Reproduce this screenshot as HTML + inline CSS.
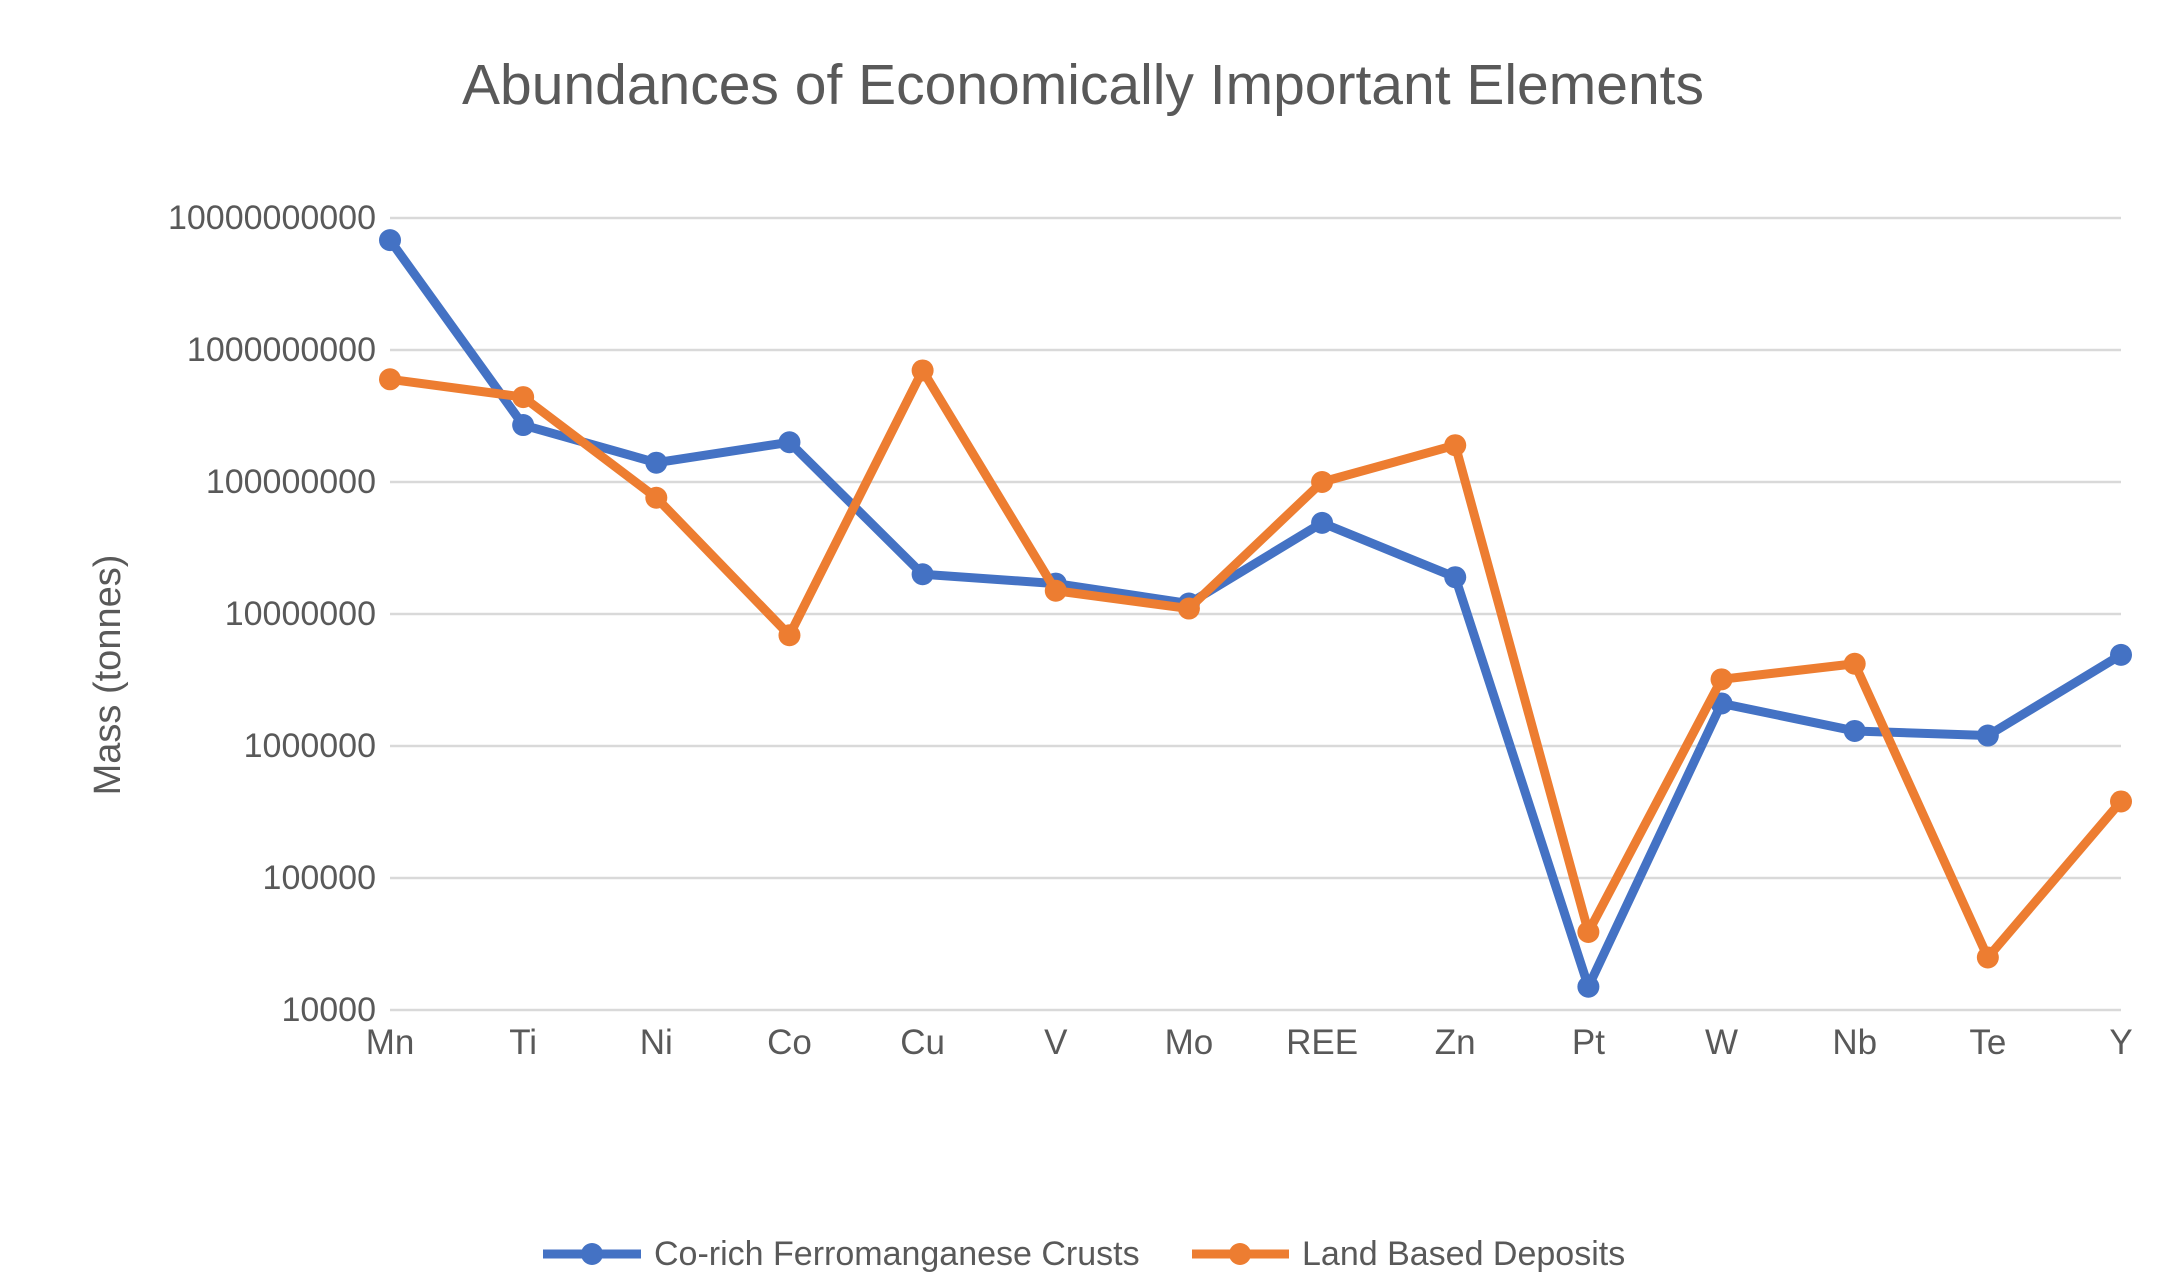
<!DOCTYPE html>
<html><head><meta charset="utf-8"><style>
html,body{margin:0;padding:0;background:#fff;}
svg{display:block;font-family:"Liberation Sans",sans-serif;}
</style></head><body>
<svg id="chart" width="2174" height="1284" viewBox="0 0 2174 1284">
<rect width="2174" height="1284" fill="#fff"/>
<text x="1083" y="104" text-anchor="middle" font-size="57" fill="#595959">Abundances of Economically Important Elements</text>
<g id="grid"></g><g id="yticks"></g><g id="xticks"></g><g id="series"></g>
<text transform="translate(120,675) rotate(-90)" text-anchor="middle" font-size="38" fill="#595959">Mass (tonnes)</text>
<g>
<g>
<line x1="543" y1="1254" x2="641" y2="1254" stroke="#4472C4" stroke-width="9"/><circle cx="592" cy="1254" r="11" fill="#4472C4"/>
<text x="654" y="1265" font-size="34" fill="#595959">Co-rich Ferromanganese Crusts</text></g>
<g>
<line x1="1192" y1="1254" x2="1289" y2="1254" stroke="#ED7D31" stroke-width="9"/><circle cx="1240" cy="1254" r="11" fill="#ED7D31"/>
<text x="1302" y="1265" font-size="34" fill="#595959">Land Based Deposits</text></g>
</g>
</svg>
<script>
const categories=["Mn","Ti","Ni","Co","Cu","V","Mo","REE","Zn","Pt","W","Nb","Te","Y"];
const crusts=[6.8e9,2.7e8,1.4e8,2.0e8,2.0e7,1.7e7,1.2e7,4.9e7,1.9e7,1.5e4,2.1e6,1.3e6,1.2e6,4.9e6];
const land=[6.0e8,4.4e8,7.6e7,6.9e6,7.0e8,1.5e7,1.1e7,1.0e8,1.9e8,3.9e4,3.2e6,4.2e6,2.5e4,3.8e5];
const yTickLabels=["10000","100000","1000000","10000000","100000000","1000000000","10000000000"];
const NS="http://www.w3.org/2000/svg";
const X0=390,X1=2121,YT=218,YB=1010,LMIN=4,LMAX=10;
function xPos(i){return X0+(X1-X0)*i/(categories.length-1);}
function yPos(v){return YB-(Math.log10(v)-LMIN)/(LMAX-LMIN)*(YB-YT);}
function mk(tag,attrs,parent){const e=document.createElementNS(NS,tag);for(const k in attrs)e.setAttribute(k,attrs[k]);parent.appendChild(e);return e;}
const grid=document.getElementById('grid'),yt=document.getElementById('yticks'),xt=document.getElementById('xticks'),sg=document.getElementById('series');
yTickLabels.forEach(function(l){const y=yPos(Number(l));
const g=mk('line',{x1:X0,x2:X1,y1:y,y2:y,stroke:'#d9d9d9','stroke-width':2.5},grid);


const t=mk('text',{x:376,y:y+11,'text-anchor':'end','font-size':34,fill:'#595959'},yt);t.textContent=l;

});
categories.forEach(function(c,i){const t=mk('text',{x:xPos(i),y:1054,'text-anchor':'middle','font-size':35,fill:'#595959'},xt);t.textContent=c;

});
function draw(vals,color,name){const g=mk('g',{},sg);


const pts=vals.map(function(v,i){return xPos(i)+','+yPos(v);}).join(' ');
const pl=mk('polyline',{points:pts,fill:'none',stroke:color,'stroke-width':9,'stroke-linejoin':'round'},g);


vals.forEach(function(v,i){const c=mk('circle',{cx:xPos(i),cy:yPos(v),r:11,fill:color},g);

});}
draw(crusts,'#4472C4','series-crusts');
draw(land,'#ED7D31','series-land');
</script>
</body></html>
